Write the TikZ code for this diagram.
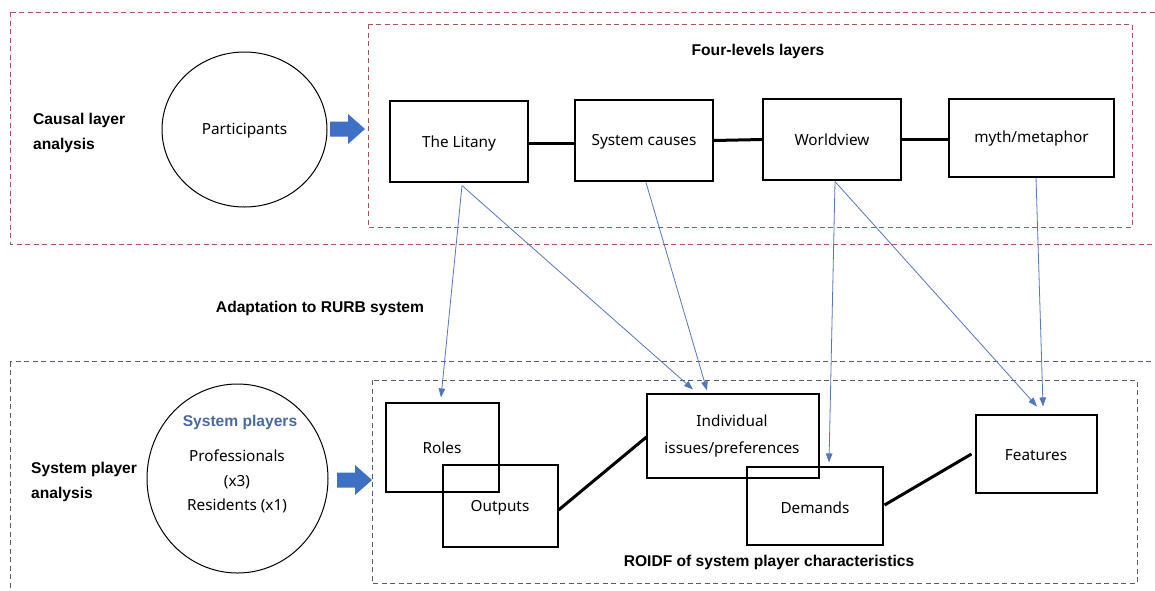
\documentclass[tikz,border=0pt]{standalone}
\usepackage{fontspec}
\setmainfont{Noto Sans}
\newfontfamily\headfont{Liberation Sans}
\usetikzlibrary{shapes.geometric,arrows.meta,calc}

\definecolor{cladash}{RGB}{172,84,88}
\definecolor{spadash}{RGB}{84,94,112}
\definecolor{linkblue}{RGB}{84,118,190}
\definecolor{bigblue}{RGB}{62,112,196}
\definecolor{headblue}{RGB}{74,106,160}

\tikzset{
  layerbox/.style={draw=black, line width=1.1pt, inner sep=0pt},
  framebox/.style={line width=0.9pt, dash pattern=on 5pt off 3.5pt},
  joint/.style={line width=3pt, black},
  mapping/.style={draw=linkblue, line width=0.8pt,
    -{Triangle[length=9pt,width=6.5pt,fill=linkblue]}},
  heading/.style={font=\headfont\bfseries\fontsize{15.6}{25}\selectfont, inner sep=0pt},
  plain/.style={font=\fontsize{15.3}{18}\selectfont, inner sep=0pt},
  actor/.style={ellipse, draw=black, line width=1pt, inner sep=0pt}
}
% block arrow from a named start coordinate, total length 35, pointing right
\newcommand{\blockarrow}[1]{%
  \fill[bigblue] ($(#1)+(0,-7.5)$) -- ++(18,0) -- ++(0,-7.5) -- ++(17,15)
    -- ++(-17,15) -- ++(0,-7.5) -- ++(-18,0) -- cycle;}

\begin{document}
\begin{tikzpicture}[x=1pt, y=-1pt]
\clip (0,0) rectangle (1155,590);
\fill[white] (0,0) rectangle (1155,590);

% ---- causal layer analysis frame ----
\draw[framebox, cladash] (10.5,12) rectangle (1175,244);
\draw[framebox, cladash] (368,24) rectangle (1132,227);
\node[heading, align=left, anchor=west] (cla) at (33,133) {Causal layer\\analysis};
\node[heading] (four) at (758,51) {Four-levels layers};

\node[actor, minimum width=165pt, minimum height=155pt] (part) at (244.5,129.5) {};
\node[plain] (parttxt) at (244.5,131) {Participants};
\coordinate (arrAstart) at (330,129);
\blockarrow{arrAstart}

\node[layerbox, minimum width=138pt, minimum height=81pt] (lit) at (459,141.5) {};
\node[plain] (littxt) at (459,144) {The Litany};
\node[layerbox, minimum width=138pt, minimum height=81pt] (sysc) at (644,140.5) {};
\node[plain] (sysctxt) at (644,142) {System causes};
\node[layerbox, minimum width=138pt, minimum height=81pt] (wv) at (832,139.5) {};
\node[plain] (wvtxt) at (832,140) {Worldview};
\node[layerbox, minimum width=165pt, minimum height=78pt] (myth) at (1031.5,138) {};
\node[plain] (mythtxt) at (1031.5,139) {myth/metaphor};

\draw[joint] (lit.east) ++(0,1.5) -- ($(sysc.west)+(0,2.5)$);
\draw[joint] (sysc.east) -- (wv.west);
\draw[joint] (wv.east) -- (myth.west |- wv.east);

% ---- system player analysis frame ----
\draw[framebox, spadash] (10,361.5) rectangle (1175,600);
\draw[framebox, spadash] (372,380) rectangle (1137,583);
\node[heading] (adapt) at (320,308) {Adaptation to RURB system};
\node[heading, align=left, anchor=west] (spa) at (31,481.5) {System player\\analysis};

\node[actor, minimum width=181pt, minimum height=189pt] (players) at (237.5,478.5) {};
\node[heading, text=headblue] (playhead) at (240,422) {System players};
\node[plain] (prof) at (237,456) {Professionals};
\node[plain] (profn) at (237,482) {(x3)};
\node[plain] (resi) at (237,506) {Residents (x1)};
\coordinate (arrBstart) at (337,480);
\blockarrow{arrBstart}

\node[layerbox, minimum width=113pt, minimum height=89pt] (roles) at (442.5,447.5) {};
\node[plain] (rolestxt) at (442,448) {Roles};
\node[layerbox, minimum width=115pt, minimum height=82pt] (outs) at (500.5,506) {};
\node[plain] (outstxt) at (500,508) {Outputs};
\node[layerbox, minimum width=172pt, minimum height=84pt] (indiv) at (733,436) {};
\node[plain, align=center, font=\fontsize{15.3}{27}\selectfont] (indivtxt) at (732,436.5) {Individual\\issues/preferences};
\node[layerbox, minimum width=136pt, minimum height=78pt] (dem) at (815,506) {};
\node[plain] (demtxt) at (815,508) {Demands};
\node[layerbox, minimum width=121pt, minimum height=78pt] (feat) at (1036.5,454) {};
\node[plain] (feattxt) at (1036,455) {Features};
\node[heading] (roidf) at (769,562) {ROIDF of system player characteristics};

\draw[joint] ($(outs.east)+(0,4)$) -- ($(indiv.west)+(0,1)$);
\draw[joint] ($(dem.east)+(1,-1)$) -- ($(feat.west)+(-4,0)$);

% ---- mapping of layers onto the system player characteristics ----
\coordinate (litout) at ($(lit.south)+(3,3)$);
\coordinate (syscout) at ($(sysc.south)+(2,1)$);
\coordinate (wvout) at ($(wv.south)+(3,1)$);
\coordinate (mythout) at ($(myth.south)+(4.5,0)$);
\draw[mapping] (litout) -- ($(roles.north)+(-1.5,-5)$);
\draw[mapping] (litout) -- ($(indiv.north)+(-40,-4)$);
\draw[mapping] (syscout) -- ($(indiv.north)+(-26,-3)$);
\draw[mapping] (wvout) -- ($(dem.north)+(14,-4)$);
\draw[mapping] (wvout) -- ($(feat.north)+(0.5,-8)$);
\draw[mapping] (mythout) -- ($(feat.north)+(6.5,-8)$);
\end{tikzpicture}
\end{document}
